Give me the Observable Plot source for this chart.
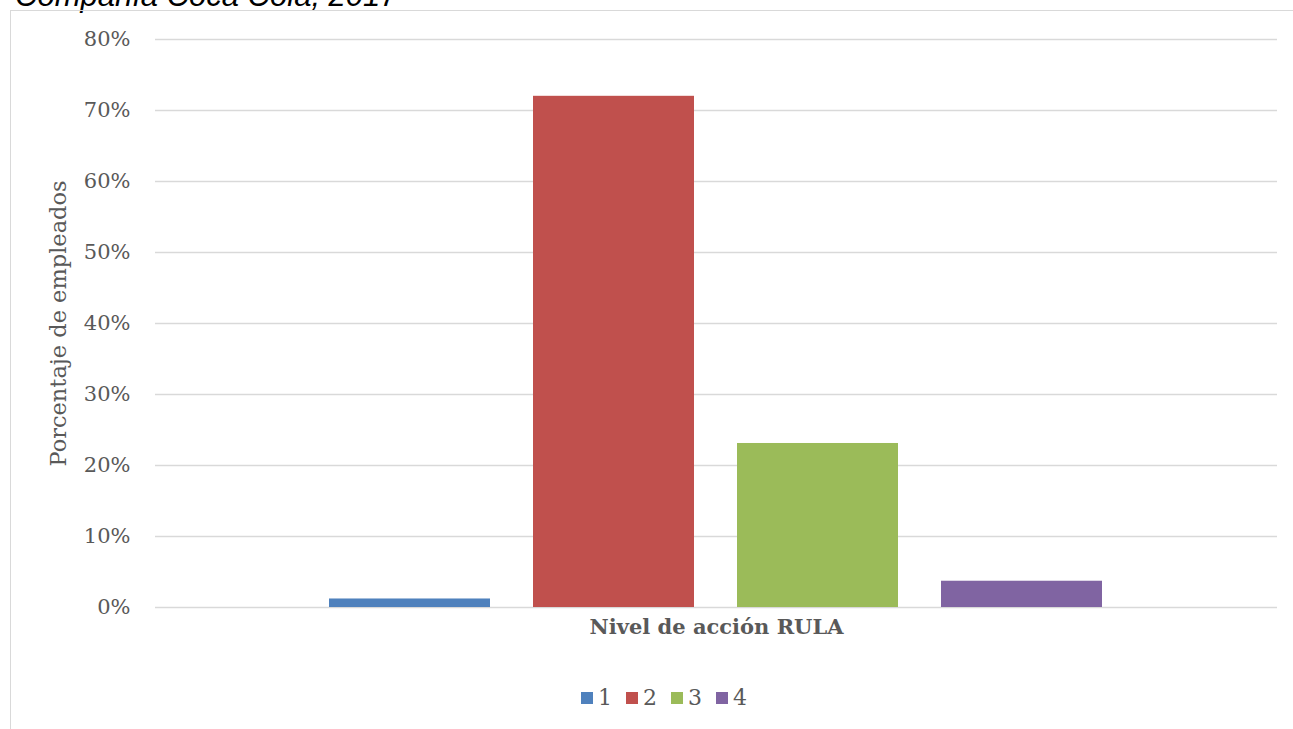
<!DOCTYPE html>
<html>
<head>
<meta charset="utf-8">
<script src="https://cdn.jsdelivr.net/npm/d3@7"></script>
<script src="https://cdn.jsdelivr.net/npm/@observablehq/plot@0.6"></script>
<style>
  html, body { margin: 0; padding: 0; background: #fff; overflow: hidden; }
  #page { position: relative; width: 1293px; height: 729px; overflow: hidden; }
  #titulo {
    position: absolute; left: 15px; top: -20px; margin: 0;
    font: italic 31px "Liberation Sans", Arial, sans-serif; line-height: 31px;
    color: #000; white-space: nowrap;
  }
  #marco {
    position: absolute; left: 10px; top: 10px; width: 1310px; height: 740px;
    border: 1.5px solid #d9d9d9; box-sizing: border-box;
  }
  #grafico { position: absolute; left: 0; top: 0; }
  #leyenda {
    position: absolute; left: 581px; top: 686px; display: flex; gap: 14px;
    font: 22px "DejaVu Serif", serif; color: #595959; line-height: 24px;
  }
  #leyenda .item { display: flex; align-items: center; gap: 5px; }
  #leyenda .sw { width: 12px; height: 12px; display: inline-block; }
</style>
</head>
<body>
<div id="page">
  <div id="titulo">Compañía Coca Cola, 2017</div>
  <div id="marco"></div>
  <div id="grafico"></div>
  <div id="leyenda"></div>
</div>
<script>
// Nivel de acción RULA: porcentaje de empleados en cada nivel
const categoria = "Nivel de acción RULA";
const niveles = ["1", "2", "3", "4"];
const porcentajes = [0.012, 0.72, 0.231, 0.037];
const colores = ["#4f81bd", "#c0504d", "#9bbb59", "#8064a2"];
const ticksY = [0, 0.1, 0.2, 0.3, 0.4, 0.5, 0.6, 0.7, 0.8];

const datos = niveles.map((n, i) => ({categoria, nivel: n, valor: porcentajes[i]}));

const gris = "#595959";
const serif = "'DejaVu Serif', serif";

const chart = Plot.plot({
  width: 1293,
  height: 729,
  marginLeft: 155,
  marginRight: 16,
  marginTop: 39,
  marginBottom: 122,
  style: {background: "transparent", fontFamily: serif, color: gris},
  fx: {domain: [categoria], paddingInner: 0, paddingOuter: 0, label: null},
  x: {domain: niveles, paddingInner: 0.21, paddingOuter: 0.855, axis: null},
  y: {domain: [0, 0.8], label: "Porcentaje de empleados"},
  color: {domain: niveles, range: colores},
  marks: [
    Plot.gridY(ticksY, {stroke: "#d9d9d9", strokeOpacity: 1, strokeWidth: 1.5}),
    Plot.axisY(ticksY, {
      tickSize: 0, tickPadding: 25, tickFormat: d3.format(".0%"),
      fontSize: 21, fill: gris,
      label: "Porcentaje de empleados", labelAnchor: "center", labelOffset: 105
    }),
    Plot.axisFx({
      anchor: "bottom", tickSize: 0, tickPadding: 12, label: null,
      fontSize: 21, fontWeight: "bold", fill: gris
    }),
    Plot.barY(datos, {fx: "categoria", x: "nivel", y: "valor", fill: "nivel"})
  ]
});
document.getElementById("grafico").appendChild(chart);

// y-axis title: plain text without arrow, same size as the tick labels
d3.select(chart).selectAll("[aria-label='y-axis label']")
  .attr("font-size", 22.5).attr("fill", gris);
d3.select(chart).selectAll("[aria-label='y-axis label'] text, [aria-label='y-axis label'] tspan")
  .each(function () {
    const t = this.textContent;
    if (/[↑→↓←]/.test(t)) this.textContent = t.replace(/\s*[↑→↓←]\s*/g, "");
  });

// Legend
const leyenda = d3.select("#leyenda");
const items = leyenda.selectAll(".item").data(niveles).join("div").attr("class", "item");
items.append("span").attr("class", "sw").style("background", (d, i) => colores[i]);
items.append("span").text(d => d);
</script>
</body>
</html>
